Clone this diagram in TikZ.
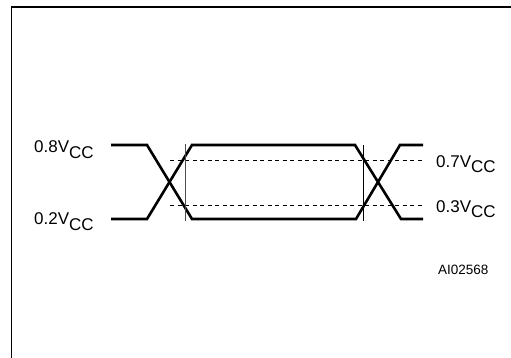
\documentclass[tikz,border=0pt]{standalone}
\usepackage{fontspec}
\setmainfont{Liberation Sans}
\begin{document}
\begin{tikzpicture}[x=1pt,y=-1pt,
  trace/.style={line width=2.6pt,line join=miter},
  level/.style={line width=0.9pt,dash pattern=on 4pt off 3.5pt},
  marker/.style={line width=0.9pt},
  frame/.style={line width=1.8pt},
  lbl/.style={inner sep=0pt,anchor=base west,font=\fontsize{17}{20}\selectfont},
  ref/.style={inner sep=0pt,anchor=base west,font=\fontsize{13.5}{16}\selectfont}]
\useasboundingbox (0,0) rectangle (511,358);
% frame
\draw[frame] (11.5,358) -- (11.5,7) -- (511,7);
% traces
\draw[trace] (111,145) -- (147,145) -- (192,219) -- (356,219) -- (400,145) -- (423,145);
\draw[trace] (111,219) -- (147,219) -- (192,145) -- (355,145) -- (401,219) -- (423,219);
% threshold levels
\draw[level] (170,160) -- (423,160);
\draw[level] (170,205) -- (423,205);
% timing markers
\draw[marker,black!70] (185,144) -- (185,221);
\draw[marker] (363,145) -- (363,221);
% labels
\node[lbl] (l08) at (34,153) {0.8V\raisebox{-5.5pt}{CC}};
\node[lbl] (l02) at (34,225) {0.2V\raisebox{-5.5pt}{CC}};
\node[lbl] (l07) at (436,167.5) {0.7V\raisebox{-5.5pt}{CC}};
\node[lbl] (l03) at (436,212) {0.3V\raisebox{-5.5pt}{CC}};
\node[ref] (ai) at (438,274.5) {AI02568};
\end{tikzpicture}
\end{document}
